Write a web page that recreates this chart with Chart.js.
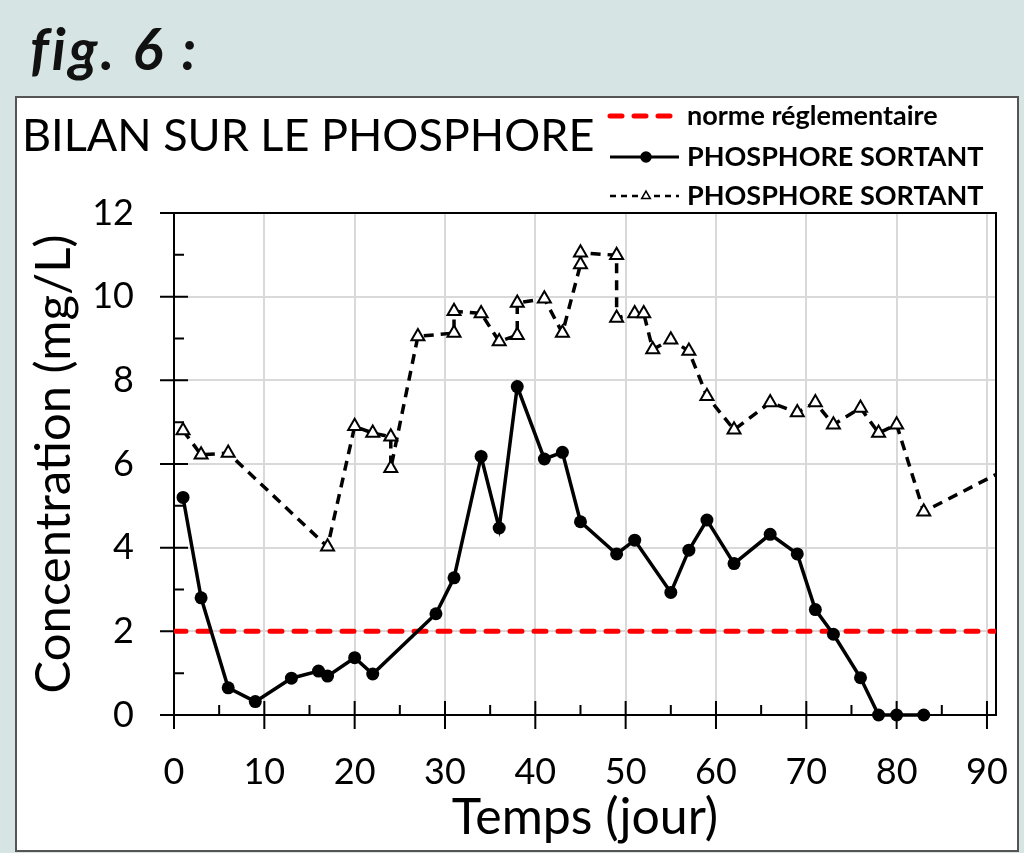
<!DOCTYPE html>
<html>
<head>
<meta charset="utf-8">
<title>fig. 6 - Bilan sur le phosphore</title>
<script src="https://cdn.jsdelivr.net/npm/chart.js@4.4.1/dist/chart.umd.min.js"></script>
<style>
  html, body { margin: 0; padding: 0; }
  body {
    width: 1024px; height: 853px; position: relative; overflow: hidden;
    background: #d6e4e3; font-family: Lato, sans-serif;
  }
  .fig { position: absolute; left: 30px; top: 14px; font: italic 700 57px Lato, sans-serif; letter-spacing: 3px; color: #111; }
  .box { position: absolute; left: 15px; top: 96px; width: 1000px; height: 752px; background: #fff; border: 2px solid #555; }
  #chart { position: absolute; left: 0; top: 0; }
</style>
</head>
<body>
<div class="fig">fig. 6 :</div>
<div class="box"></div>
<canvas id="chart" width="1024" height="853"></canvas>
<script>
// --- Data ---
const normeX = [0, 91];
const normeY = [2, 2];

const sortantX = [1, 3, 6, 9, 13, 16, 17, 20, 22, 29, 31, 34, 36, 38, 41, 43, 45, 49, 51, 55, 57, 59, 62, 66, 69, 71, 73, 76, 78, 80, 83];
const sortantY = [5.2, 2.8, 0.65, 0.32, 0.88, 1.05, 0.93, 1.37, 0.98, 2.42, 3.28, 6.18, 4.47, 7.85, 6.12, 6.28, 4.62, 3.85, 4.18, 2.93, 3.94, 4.66, 3.62, 4.32, 3.85, 2.52, 1.93, 0.89, 0, 0, 0];

// second series (triangles); last value is where the line leaves the plot
const sortant2X = [1, 3, 6, 17, 20, 22, 24, 24, 27, 31, 31, 34, 36, 38, 38, 41, 43, 45, 45, 49, 49, 51, 52, 53, 55, 57, 59, 62, 66, 69, 71, 73, 76, 78, 80, 83, 91];
const sortant2Y = [6.8, 6.22, 6.26, 4.02, 6.9, 6.74, 6.65, 5.9, 9.05, 9.13, 9.65, 9.6, 8.93, 9.08, 9.85, 9.95, 9.13, 10.77, 11.05, 10.99, 9.49, 9.6, 9.6, 8.74, 8.97, 8.7, 7.62, 6.82, 7.47, 7.23, 7.47, 6.94, 7.34, 6.74, 6.94, 4.86, 5.75];

const labels = ['norme réglementaire', 'PHOSPHORE SORTANT', 'PHOSPHORE SORTANT'];
const xTitle = 'Temps (jour)';
const yTitle = 'Concentration (mg/L)';
const chartTitle = 'BILAN SUR LE PHOSPHORE';

const FONT = 'Lato, sans-serif';

function toPoints(xs, ys) {
  return xs.map((x, i) => ({ x, y: ys[i] }));
}

// frame on top/right, Excel-style cross ticks and inner minor ticks
const frameAndTicks = {
  id: 'frameAndTicks',
  beforeDatasetsDraw(chart) {
    const { ctx, chartArea: a, scales: { x, y } } = chart;
    ctx.save();
    ctx.strokeStyle = '#000';
    ctx.lineWidth = 2;
    ctx.beginPath();
    ctx.moveTo(a.left, a.top);
    ctx.lineTo(a.right, a.top);
    ctx.lineTo(a.right, a.bottom);

    const xStep = x.options.ticks.stepSize;
    x.ticks.forEach(t => {
      const px = x.getPixelForValue(t.value);
      ctx.moveTo(px, a.bottom - 14);
      ctx.lineTo(px, a.bottom + 14);
      const mid = t.value + xStep / 2;
      if (mid <= x.max) {
        const pm = x.getPixelForValue(mid);
        ctx.moveTo(pm, a.bottom - 10);
        ctx.lineTo(pm, a.bottom);
      }
    });
    const yStep = y.options.ticks.stepSize;
    y.ticks.forEach(t => {
      const py = y.getPixelForValue(t.value);
      ctx.moveTo(a.left - 14, py);
      ctx.lineTo(a.left + 14, py);
      const mid = t.value + yStep / 2;
      if (mid <= y.max) {
        const pm = y.getPixelForValue(mid);
        ctx.moveTo(a.left, pm);
        ctx.lineTo(a.left + 10, pm);
      }
    });
    ctx.stroke();
    ctx.restore();
  },
  afterDraw(chart) {
    const { ctx } = chart;
    ctx.save();
    ctx.fillStyle = '#000';
    ctx.textBaseline = 'alphabetic';
    ctx.font = '400 45px ' + FONT;
    ctx.fillText(chartTitle, 22, 151);

    // legend, top right
    const rows = [116, 157, 196];
    chart.data.datasets.forEach((ds, i) => {
      const yy = rows[i];
      ctx.save();
      ctx.strokeStyle = ds.borderColor;
      ctx.lineWidth = ds.legendWidth;
      ctx.lineCap = ds.borderCapStyle || 'butt';
      ctx.setLineDash(ds.legendDash || []);
      ctx.beginPath();
      ctx.moveTo(610, yy);
      ctx.lineTo(679, yy);
      ctx.stroke();
      ctx.restore();
      if (ds.legendPoint) {
        ctx.save();
        ctx.fillStyle = ds.pointBackgroundColor;
        ctx.strokeStyle = ds.pointBorderColor;
        ctx.lineWidth = 1.5;
        Chart.helpers.drawPoint(ctx, { pointStyle: ds.pointStyle, radius: ds.legendPoint, borderWidth: 1.5 }, 646, yy);
        ctx.restore();
      }
      ctx.fillStyle = '#000';
      ctx.font = '700 27px ' + FONT;
      ctx.textBaseline = 'middle';
      ctx.fillText(ds.label, 687, yy);
    });
    ctx.restore();
  }
};

const chart = new Chart(document.getElementById('chart'), {
  type: 'line',
  data: {
    datasets: [
      {
        label: labels[0],
        data: toPoints(normeX, normeY),
        borderColor: '#ff0000',
        borderWidth: 5,
        borderDash: [12, 12],
        borderCapStyle: 'round',
        pointRadius: 0,
        order: 3,
        legendWidth: 5,
        legendDash: [12, 12],
      },
      {
        label: labels[1],
        data: toPoints(sortantX, sortantY),
        borderColor: '#000',
        borderWidth: 3.5,
        pointStyle: 'circle',
        pointRadius: 6.5,
        pointBackgroundColor: '#000',
        pointBorderColor: '#000',
        pointBorderWidth: 0,
        order: 1,
        clip: false,
        legendWidth: 3,
        legendPoint: 5,
      },
      {
        label: labels[2],
        data: toPoints(sortant2X, sortant2Y),
        borderColor: '#000',
        borderWidth: 3.5,
        borderDash: [10, 7],
        pointStyle: 'triangle',
        pointRadius: ctx => (ctx.dataIndex === sortant2X.length - 1 ? 0 : 7.5),
        pointBackgroundColor: '#fff',
        pointBorderColor: '#000',
        pointBorderWidth: 2,
        order: 2,
        clip: 0,
        legendWidth: 2.5,
        legendDash: [6, 5],
        legendPoint: 5,
      },
    ],
  },
  options: {
    responsive: false,
    animation: false,
    layout: { padding: { left: 16, right: 28, top: 213, bottom: 0 } },
    plugins: {
      legend: { display: false },
      title: { display: false },
      tooltip: { enabled: false },
    },
    scales: {
      x: {
        type: 'linear',
        min: 0,
        max: 91,
        afterFit: s => { s.height = 138; s.paddingLeft = 0; s.paddingRight = 0; },
        ticks: { stepSize: 10, includeBounds: false, padding: 36, color: '#000', font: { family: FONT, size: 36 } },
        grid: { color: '#d9d9d9', lineWidth: 2, drawTicks: false },
        border: { display: true, color: '#000', width: 2 },
        title: { display: true, text: xTitle, color: '#000', font: { family: FONT, size: 50 }, padding: { top: 0, bottom: 5 } },
      },
      y: {
        type: 'linear',
        min: 0,
        max: 12,
        afterFit: s => { s.width = 158; s.paddingTop = 0; s.paddingBottom = 0; },
        ticks: { stepSize: 2, padding: 40, color: '#000', font: { family: FONT, size: 36 } },
        grid: { color: '#d9d9d9', lineWidth: 2, drawTicks: false },
        border: { display: true, color: '#000', width: 2 },
        title: { display: true, text: yTitle, color: '#000', font: { family: FONT, size: 49 }, padding: { top: 9, bottom: 0 } },
      },
    },
  },
  plugins: [frameAndTicks],
});
</script>
</body>
</html>
